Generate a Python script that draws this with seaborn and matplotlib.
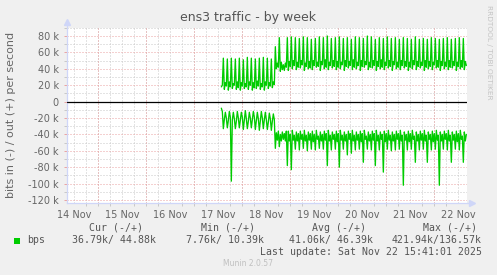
import matplotlib
matplotlib.use("Agg")
import matplotlib.pyplot as plt
import matplotlib.dates as mdates
import matplotlib.ticker as mticker
from matplotlib.lines import Line2D
from matplotlib.patches import Rectangle
import seaborn as sns
import pandas as pd

sns.set_theme(style="white")
plt.rcParams['font.family'] = ['DejaVu Sans']

# ---------------- data ----------------
title = "ens3 traffic - by week"
ylabel = "bits in (-) / out (+) per second"
series_name = "bps"
sample_start = "2025-11-17 13:30"
sample_step = "30min"
view_end = "2025-11-22 16:20"
view_hours = 200
y_min_k, y_max_k = -123.3, 90.4

# out traffic (+), kbit/s, 30-min averages
out_kbps = [
    18, 20, 53, 15, 23, 19,
    52, 14, 24, 18, 53, 16, 22, 20, 52, 15, 24, 17, 53, 14, 23, 19,
    51, 16, 22, 18, 54, 15, 24, 20, 53, 14, 23, 17, 52, 16, 25, 19,
    53, 15, 22, 18, 54, 14, 24, 20, 53, 16, 23, 19, 52, 17, 24, 21,
    67, 40, 47, 42, 78, 37, 48, 39, 45, 38, 47, 42,
    78, 38, 49, 43, 79, 40, 50, 44, 78, 39, 48, 42, 77, 41, 50, 45,
    79, 38, 47, 43, 78, 40, 49, 41, 76, 39, 50, 44, 77, 42, 48, 43,
    79, 38, 49, 45, 78, 40, 51, 42, 80, 39, 48, 44, 77, 41, 50, 43,
    78, 39, 49, 42, 79, 40, 48, 45, 77, 38, 50, 43, 78, 41, 49, 44,
    76, 39, 51, 42, 79, 40, 48, 44, 78, 38, 50, 43, 77, 42, 49, 45,
    80, 39, 48, 42, 79, 41, 50, 44, 76, 38, 49, 43, 78, 40, 51, 42,
    77, 39, 48, 44, 79, 41, 50, 43, 77, 38, 49, 45, 78, 40, 48, 42,
    76, 39, 50, 44, 78, 41, 49, 43, 77, 38, 48, 42, 76, 40, 50, 45,
    79, 39, 49, 43, 76, 41, 48, 44, 77, 38, 50, 42, 76, 40, 49, 43,
    78, 39, 48, 45, 77, 41, 50, 42, 76, 38, 49, 44, 77, 40, 48, 43,
    78, 39, 50, 42, 76, 41, 49, 44, 77, 38, 48, 43, 78, 40, 50, 42,
    77, 39, 49, 44,
]

# in traffic (-), kbit/s, 30-min averages (drawn negative)
in_kbps = [
    -8, -12, -33, -22, -13, -20,
    -32, -23, -12, -19, -97, -22, -13, -21, -33, -24, -12, -20, -32, -22, -13, -19,
    -34, -23, -11, -21, -33, -24, -13, -20, -32, -22, -12, -19, -34, -23, -13, -21,
    -35, -24, -12, -20, -33, -22, -13, -22, -34, -25, -14, -21, -35, -24, -15, -22,
    -57, -38, -47, -36, -55, -40, -48, -37, -46, -39, -48, -36,
    -78, -36, -48, -40, -83, -35, -47, -41, -58, -37, -48, -39, -59, -36, -46, -40,
    -57, -35, -48, -41, -60, -37, -47, -39, -58, -36, -49, -40, -59, -35, -46, -42,
    -57, -37, -48, -40, -58, -36, -47, -39, -78, -35, -48, -41, -59, -37, -46, -40,
    -58, -36, -49, -39, -80, -35, -47, -41, -58, -37, -48, -40, -65, -36, -46, -39,
    -63, -35, -48, -41, -59, -37, -47, -40, -58, -36, -49, -39, -74, -35, -46, -42,
    -58, -37, -48, -40, -59, -36, -47, -39, -78, -35, -48, -41, -59, -37, -46, -40,
    -86, -36, -49, -39, -58, -35, -47, -41, -60, -37, -48, -40, -59, -36, -46, -39,
    -58, -35, -48, -41, -102, -37, -47, -40, -59, -36, -49, -39, -58, -35, -46, -42,
    -74, -37, -48, -40, -59, -36, -47, -39, -58, -35, -48, -41, -74, -37, -46, -40,
    -59, -36, -49, -39, -58, -35, -47, -41, -102, -37, -48, -40, -58, -36, -46, -39,
    -59, -35, -48, -41, -74, -37, -47, -40, -58, -36, -49, -39, -59, -35, -46, -42,
    -74, -37, -48, -40,
]

legend_headers = ["Cur (-/+)", "Min (-/+)", "Avg (-/+)", "Max (-/+)"]
legend_values = ["36.79k/ 44.88k", "7.76k/ 10.39k", "41.06k/ 46.39k", "421.94k/136.57k"]
last_update = "Last update: Sat Nov 22 15:41:01 2025"
footer = "Munin 2.0.57"
side_text = "RRDTOOL / TOBI OETIKER"

# ---------------- build ----------------
times = pd.date_range(sample_start, periods=len(out_kbps), freq=sample_step)
df = pd.DataFrame({"time": times, "out": out_kbps, "in": in_kbps})

W, H = 497, 275
fig = plt.figure(figsize=(W / 100, H / 100), dpi=100)
fig.patch.set_facecolor("#F0F0F0")

def fx(px):
    return px / W

def fy(py):
    return 1 - py / H

ax = fig.add_axes([fx(67), fy(202.7), fx(467) - fx(67), fy(27.5) - fy(202.7)])
ax.set_facecolor("white")

FONT = "#666666"
GRID = "#C8C8C8"
MGRID = "#EAA2A2"
AXIS = "#CFD6F8"
GREEN = "#00CC00"
dot = (0, (1, 2))

end = pd.Timestamp(view_end)
start = end - pd.Timedelta(hours=view_hours)
ax.set_xlim(start, end)
ax.set_ylim(y_min_k, y_max_k)

# grid
ax.xaxis.set_major_locator(mdates.HourLocator(byhour=[12]))
ax.xaxis.set_major_formatter(mdates.DateFormatter("%d %b"))
ax.xaxis.set_minor_locator(mdates.HourLocator(byhour=[0, 6, 18]))
ax.yaxis.set_major_locator(mticker.MultipleLocator(20))
ax.yaxis.set_minor_locator(mticker.MultipleLocator(10))
ax.yaxis.set_major_formatter(mticker.FuncFormatter(lambda v, p: "0" if abs(v) < 1e-9 else f"{int(round(v))} k"))

ax.grid(which="both", axis="x", color=GRID, linestyle=dot, linewidth=0.72)
ax.grid(which="minor", axis="y", color=GRID, linestyle=dot, linewidth=0.72)
ax.grid(which="major", axis="y", color=MGRID, linestyle=dot, linewidth=0.72)
for d in pd.date_range(start.normalize() + pd.Timedelta(days=1), end, freq="D"):
    ax.axvline(d, color=MGRID, linestyle=dot, linewidth=0.72, zorder=1.5)
ax.set_axisbelow(True)

# data
sns.lineplot(data=df, x="time", y="out", ax=ax, color=GREEN, linewidth=0.95, estimator=None, zorder=3)
sns.lineplot(data=df, x="time", y="in", ax=ax, color=GREEN, linewidth=0.95, estimator=None, zorder=3)
ax.axhline(0, color="black", linewidth=0.9, zorder=4)

ax.set_xlabel("")
ax.set_ylabel("")

# ticks
ax.tick_params(axis="x", which="major", length=0, pad=5.5, labelsize=7, labelcolor=FONT)
ax.tick_params(axis="x", which="minor", length=2, color=GRID, width=0.7, direction="out")
ax.tick_params(axis="y", which="major", length=2, color=MGRID, width=0.7, pad=4, labelsize=7, labelcolor=FONT)
ax.tick_params(axis="y", which="minor", length=2, color=GRID, width=0.7)
ax.tick_params(bottom=True, left=True, which="both")

for s in ["top", "right"]:
    ax.spines[s].set_visible(False)
for s in ["left", "bottom"]:
    ax.spines[s].set_color(AXIS)
    ax.spines[s].set_linewidth(0.9)

# axis extensions with arrows
ax.add_line(Line2D([0, 0], [1, 1.02], transform=ax.transAxes, color=AXIS, lw=0.9, clip_on=False))
ax.add_line(Line2D([1, 1.01], [0, 0], transform=ax.transAxes, color=AXIS, lw=0.9, clip_on=False))
ax.plot([0], [1.03], marker="^", markersize=4, color=AXIS, transform=ax.transAxes, clip_on=False)
ax.plot([1.013], [0], marker=">", markersize=4, color=AXIS, transform=ax.transAxes, clip_on=False)

# texts
fig.text(fx(248), fy(17), title, ha="center", va="center", fontsize=9, color="#555555")
fig.text(fx(11), fy(115), ylabel, ha="center", va="center", rotation=90, fontsize=8, color=FONT)
fig.text(fx(489), fy(5), side_text, ha="center", va="top", rotation=270, fontsize=5.3, color="#C4C4C4")

mono = dict(family="DejaVu Sans Mono", fontsize=7.1, color="#555555", va="center")
head_x = [89.3, 201, 312.3, 422.7]
val_x = [72.3, 186, 288.7, 391.3]
for h, x in zip(legend_headers, head_x):
    fig.text(fx(x), fy(227.7), h, ha="left", **mono)
fig.patches.append(Rectangle((fx(14), fy(243.7)), fx(6), 6 / H, transform=fig.transFigure,
                             facecolor=GREEN, edgecolor="none"))
fig.text(fx(26.7), fy(240), series_name, ha="left", **mono)
for v, x in zip(legend_values, val_x):
    fig.text(fx(x), fy(240), v, ha="left", **mono)
fig.text(fx(482.5), fy(251.7), last_update, ha="right", **mono)
fig.text(fx(248), fy(264), footer, ha="center", va="center", fontsize=5.5, color="#C0C0C0")

fig.savefig("out.png", dpi=100, facecolor=fig.get_facecolor())
